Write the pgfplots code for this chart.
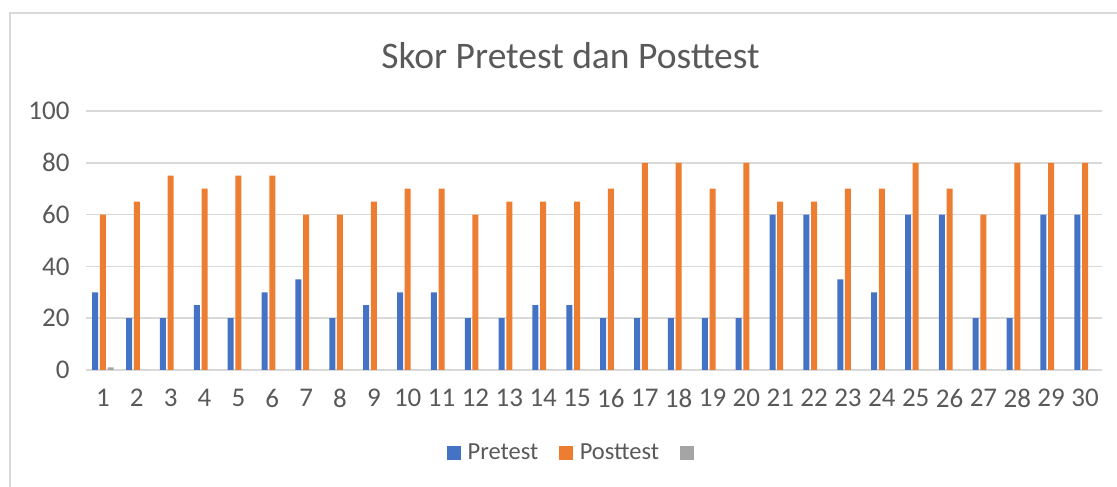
\documentclass[border=0pt]{standalone}
\usepackage{fontspec}
\setmainfont{Carlito}
\usepackage{pgfplots}
\usepackage{pgfplotstable}
\pgfplotsset{compat=1.18}
\definecolor{cblue}{HTML}{4472C4}
\definecolor{corange}{HTML}{ED7D31}
\definecolor{cgray}{HTML}{A5A5A5}
\definecolor{ctext}{HTML}{595959}
\definecolor{cgrid}{HTML}{D9D9D9}
\pgfplotstableread{
cat pre post other
1 30 60 1
2 20 65 0
3 20 75 0
4 25 70 0
5 20 75 0
6 30 75 0
7 35 60 0
8 20 60 0
9 25 65 0
10 30 70 0
11 30 70 0
12 20 60 0
13 20 65 0
14 25 65 0
15 25 65 0
16 20 70 0
17 20 80 0
18 20 80 0
19 20 70 0
20 20 80 0
21 60 65 0
22 60 65 0
23 35 70 0
24 30 70 0
25 60 80 0
26 60 70 0
27 20 60 0
28 20 80 0
29 60 80 0
30 60 80 0
}\data
\begin{document}
\begin{tikzpicture}[x=1pt,y=1pt]
\useasboundingbox (0,0) rectangle (1117,487);
\begin{scope}
\clip (0,0) rectangle (1117,487);
\draw[cgrid, line width=1.5pt] (10,-10) -- (10,474) -- (1130,474);
\end{scope}
\node[anchor=base, text=ctext, font=\fontsize{37.5}{42}\selectfont] at (570.5,418) {Skor Pretest dan Posttest};
\begin{axis}[
  at={(86pt,117pt)}, anchor=south west,
  scale only axis, width=1016pt, height=259pt,
  xmin=0.5, xmax=30.5, ymin=0, ymax=100,
  ybar=1.7pt, bar width=6pt,
  xtick={1,...,30}, ytick={0,20,...,100},
  ymajorgrids, grid style={cgrid, line width=1.5pt},
  axis line style={draw=none}, tick style={draw=none},
  /pgf/number format/assume math mode=true,
  xticklabel style={text=ctext, font=\fontsize{27}{30}\selectfont, yshift=-11pt},
  yticklabel style={text=ctext, font=\fontsize{27}{30}\selectfont, xshift=-13pt},
  legend columns=3,
  legend style={at={(0.484,-0.32)}, anchor=center, draw=none, fill=none,
    font=\fontsize{24.5}{28}\selectfont, text=ctext,
    /tikz/every odd column/.append style={column sep=5pt},
    /tikz/every even column/.append style={column sep=19pt}},
  legend image code/.code={\fill[#1] (0pt,-7pt) rectangle (13.5pt,7pt);},
]
\addplot[fill=cblue, draw=none] table[x=cat, y=pre] {\data};
\addlegendentry{Pretest}
\addplot[fill=corange, draw=none] table[x=cat, y=post] {\data};
\addlegendentry{Posttest}
\addplot[fill=cgray, draw=none] table[x=cat, y=other] {\data};
\addlegendentry{\phantom{i}}
\end{axis}
\end{tikzpicture}
\end{document}
